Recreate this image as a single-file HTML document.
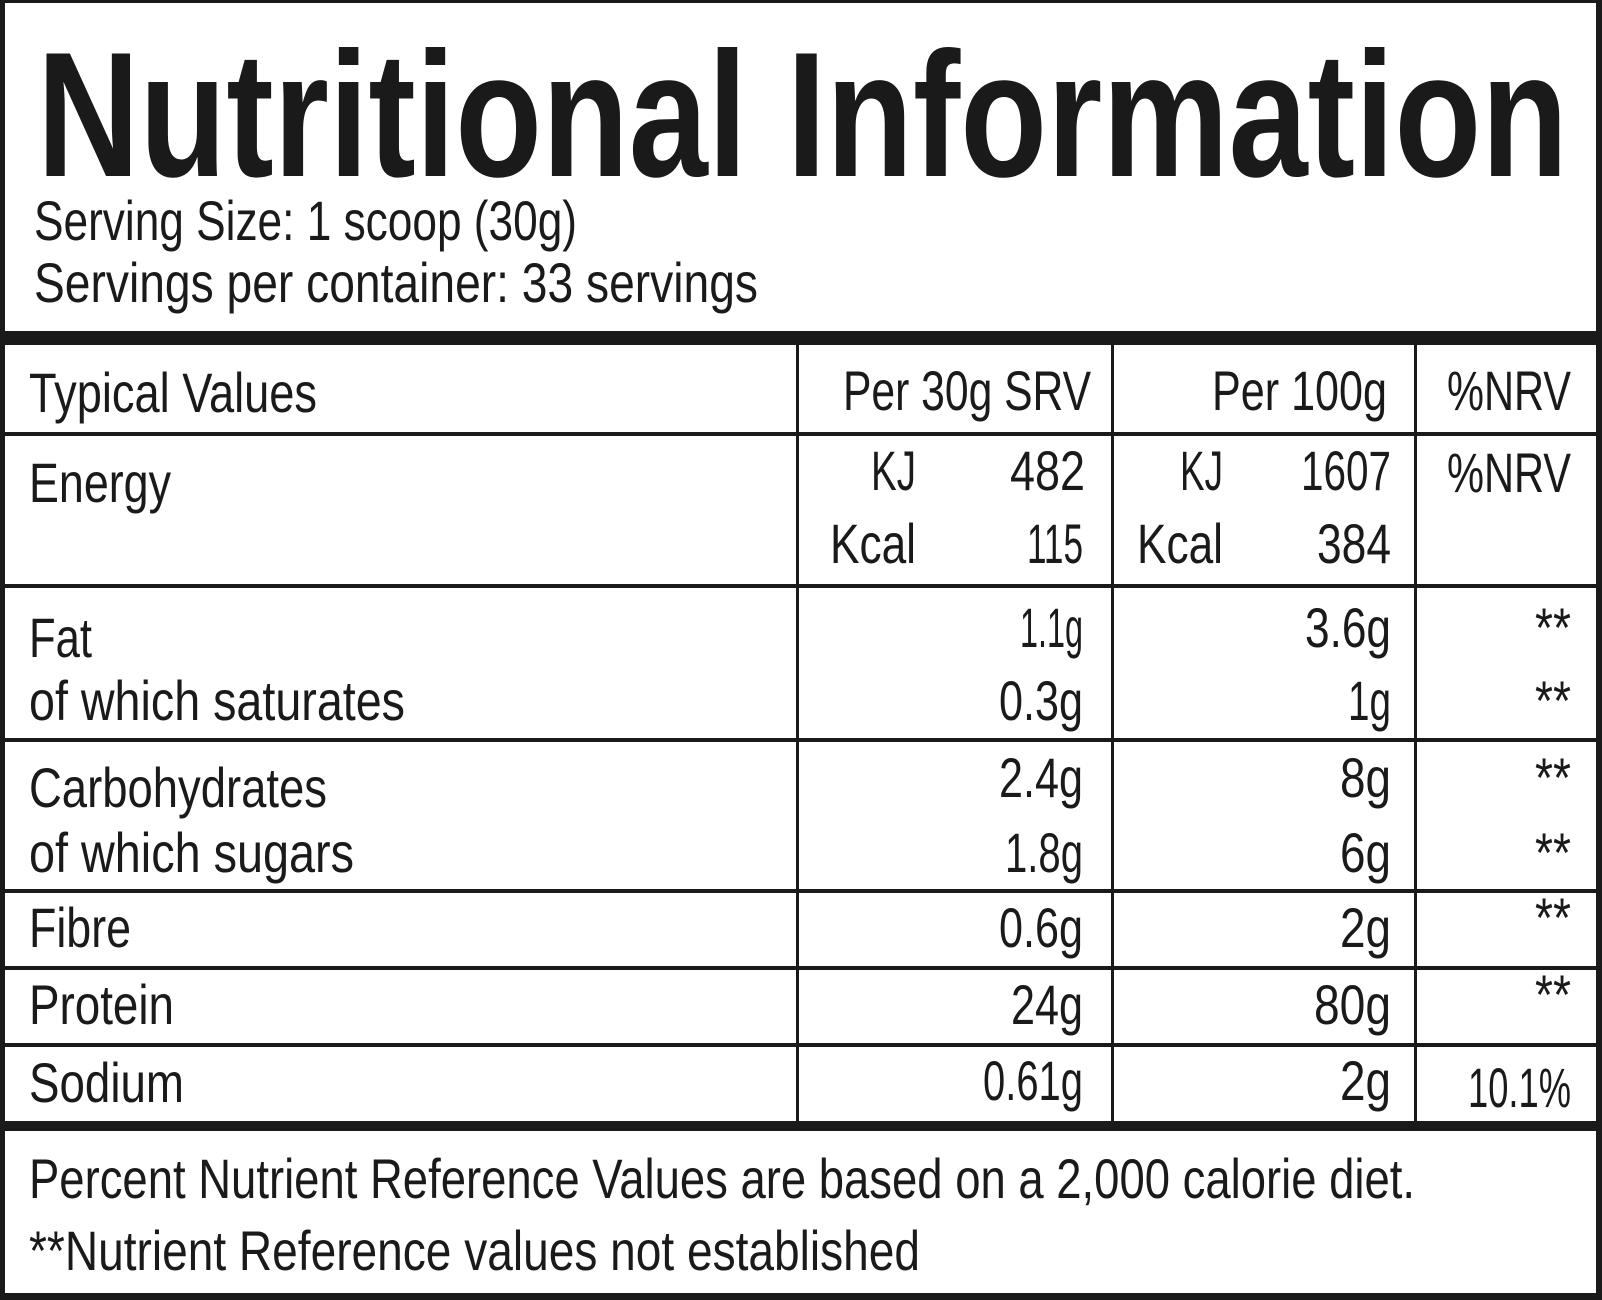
<!DOCTYPE html>
<html><head><meta charset="utf-8"><style>
html,body{margin:0;padding:0;background:#fff;}
svg{display:block;}
text{font-family:"Liberation Sans",sans-serif;fill:#1a1a1a;font-size:56px;}
</style></head><body>
<svg width="1602" height="1300" viewBox="0 0 1602 1300" xmlns="http://www.w3.org/2000/svg">
<rect x="0" y="0" width="1602" height="1300" fill="#fff"/>
<g fill="#1a1a1a">
<rect x="0" y="0" width="5" height="1300"/>
<rect x="1596" y="0" width="6" height="1300"/>
<rect x="0" y="0" width="1602" height="3"/>
<rect x="0" y="1293" width="1602" height="7"/>
<rect x="0" y="331" width="1602" height="14"/>
<rect x="0" y="432" width="1602" height="4"/>
<rect x="0" y="584" width="1602" height="4"/>
<rect x="0" y="738" width="1602" height="4"/>
<rect x="0" y="889" width="1602" height="4"/>
<rect x="0" y="966" width="1602" height="4"/>
<rect x="0" y="1043" width="1602" height="4"/>
<rect x="0" y="1121" width="1602" height="10"/>
<rect x="796" y="345" width="3" height="776"/>
<rect x="1111" y="345" width="3" height="776"/>
<rect x="1414" y="345" width="3" height="776"/>
</g>
<text x="37" y="176" style="font-size:178px;font-weight:bold" textLength="1531" lengthAdjust="spacingAndGlyphs">Nutritional Information</text>
<text x="34" y="240" textLength="543" lengthAdjust="spacingAndGlyphs">Serving Size: 1 scoop (30g)</text>
<text x="34" y="302" textLength="724" lengthAdjust="spacingAndGlyphs">Servings per container: 33 servings</text>

<text x="29" y="412" textLength="288" lengthAdjust="spacingAndGlyphs">Typical Values</text>
<text x="1091" y="410" text-anchor="end" textLength="248" lengthAdjust="spacingAndGlyphs">Per 30g SRV</text>
<text x="1387" y="410" text-anchor="end" textLength="175" lengthAdjust="spacingAndGlyphs">Per 100g</text>
<text x="1571" y="410" text-anchor="end" textLength="124" lengthAdjust="spacingAndGlyphs">%NRV</text>

<text x="29" y="502" textLength="142" lengthAdjust="spacingAndGlyphs">Energy</text>
<text x="916" y="490" text-anchor="end" textLength="45" lengthAdjust="spacingAndGlyphs">KJ</text>
<text x="1085" y="490" text-anchor="end" textLength="75" lengthAdjust="spacingAndGlyphs">482</text>
<text x="916" y="563" text-anchor="end" textLength="86" lengthAdjust="spacingAndGlyphs">Kcal</text>
<text x="1083" y="563" text-anchor="end" textLength="56" lengthAdjust="spacingAndGlyphs">115</text>
<text x="1223" y="490" text-anchor="end" textLength="43" lengthAdjust="spacingAndGlyphs">KJ</text>
<text x="1391" y="490" text-anchor="end" textLength="90" lengthAdjust="spacingAndGlyphs">1607</text>
<text x="1223" y="563" text-anchor="end" textLength="86" lengthAdjust="spacingAndGlyphs">Kcal</text>
<text x="1391" y="563" text-anchor="end" textLength="74" lengthAdjust="spacingAndGlyphs">384</text>
<text x="1571" y="492" text-anchor="end" textLength="124" lengthAdjust="spacingAndGlyphs">%NRV</text>

<text x="29" y="657" textLength="63" lengthAdjust="spacingAndGlyphs">Fat</text>
<text x="29" y="720" textLength="376" lengthAdjust="spacingAndGlyphs">of which saturates</text>
<text x="1083" y="647" text-anchor="end" textLength="63" lengthAdjust="spacingAndGlyphs">1.1g</text>
<text x="1083" y="720" text-anchor="end" textLength="84" lengthAdjust="spacingAndGlyphs">0.3g</text>
<text x="1391" y="647" text-anchor="end" textLength="86" lengthAdjust="spacingAndGlyphs">3.6g</text>
<text x="1391" y="720" text-anchor="end" textLength="43" lengthAdjust="spacingAndGlyphs">1g</text>
<text x="1571" y="647" text-anchor="end" textLength="36" lengthAdjust="spacingAndGlyphs">**</text>
<text x="1571" y="720" text-anchor="end" textLength="36" lengthAdjust="spacingAndGlyphs">**</text>

<text x="29" y="807" textLength="298" lengthAdjust="spacingAndGlyphs">Carbohydrates</text>
<text x="29" y="872" textLength="325" lengthAdjust="spacingAndGlyphs">of which sugars</text>
<text x="1083" y="797" text-anchor="end" textLength="84" lengthAdjust="spacingAndGlyphs">2.4g</text>
<text x="1083" y="872" text-anchor="end" textLength="78" lengthAdjust="spacingAndGlyphs">1.8g</text>
<text x="1391" y="797" text-anchor="end" textLength="51" lengthAdjust="spacingAndGlyphs">8g</text>
<text x="1391" y="872" text-anchor="end" textLength="51" lengthAdjust="spacingAndGlyphs">6g</text>
<text x="1571" y="797" text-anchor="end" textLength="36" lengthAdjust="spacingAndGlyphs">**</text>
<text x="1571" y="872" text-anchor="end" textLength="36" lengthAdjust="spacingAndGlyphs">**</text>

<text x="29" y="947" textLength="102" lengthAdjust="spacingAndGlyphs">Fibre</text>
<text x="1083" y="947" text-anchor="end" textLength="84" lengthAdjust="spacingAndGlyphs">0.6g</text>
<text x="1391" y="947" text-anchor="end" textLength="51" lengthAdjust="spacingAndGlyphs">2g</text>
<text x="1571" y="937" text-anchor="end" textLength="36" lengthAdjust="spacingAndGlyphs">**</text>

<text x="29" y="1024" textLength="145" lengthAdjust="spacingAndGlyphs">Protein</text>
<text x="1083" y="1024" text-anchor="end" textLength="72" lengthAdjust="spacingAndGlyphs">24g</text>
<text x="1391" y="1024" text-anchor="end" textLength="77" lengthAdjust="spacingAndGlyphs">80g</text>
<text x="1571" y="1014" text-anchor="end" textLength="36" lengthAdjust="spacingAndGlyphs">**</text>

<text x="29" y="1102" textLength="155" lengthAdjust="spacingAndGlyphs">Sodium</text>
<text x="1083" y="1100" text-anchor="end" textLength="100" lengthAdjust="spacingAndGlyphs">0.61g</text>
<text x="1391" y="1100" text-anchor="end" textLength="51" lengthAdjust="spacingAndGlyphs">2g</text>
<text x="1571" y="1107" text-anchor="end" textLength="103" lengthAdjust="spacingAndGlyphs">10.1%</text>

<text x="29" y="1198" textLength="1386" lengthAdjust="spacingAndGlyphs">Percent Nutrient Reference Values are based on a 2,000 calorie diet.</text>
<text x="29" y="1270" textLength="891" lengthAdjust="spacingAndGlyphs">**Nutrient Reference values not established</text>
</svg>
</body></html>
